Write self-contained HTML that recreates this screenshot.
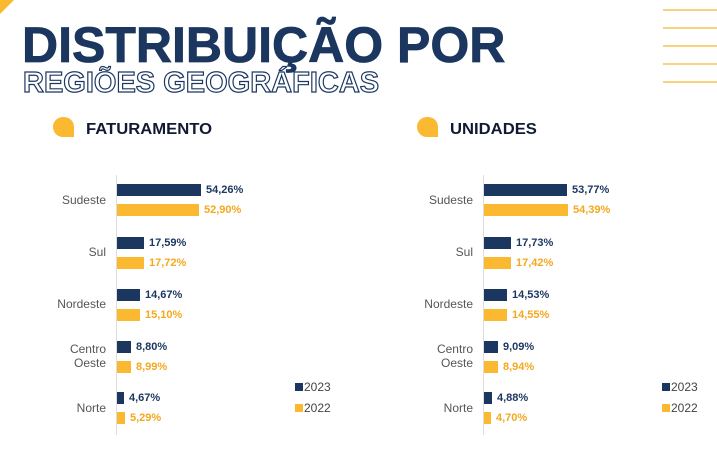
<!DOCTYPE html>
<html><head><meta charset="utf-8"><style>
body{margin:0;width:717px;height:459px;background:#fff;position:relative;overflow:hidden;font-family:"Liberation Sans",sans-serif}
.a{position:absolute}
.t1{left:22px;top:20px;font-size:50px;font-weight:bold;color:#1b365f;transform:scaleX(1.0);transform-origin:0 0;white-space:nowrap;line-height:50px;-webkit-text-stroke:0.8px #1b365f}
.t2{left:23px;top:69px;font-size:29px;font-weight:bold;color:#fff;-webkit-text-stroke:1.2px #1b365f;transform:scaleX(1.0);transform-origin:0 0;white-space:nowrap;line-height:29px}
.h{font-size:16px;font-weight:bold;color:#111a33;transform:scaleX(1.04);transform-origin:0 0}
.ic{width:21px;height:20px;background:#fbb932;border-radius:11px 11px 0 11px}
.ln{left:663px;width:54px;height:2px;background:#f9d27f}
.lab{font-size:12px;color:#555;text-align:right;width:100px;line-height:14px}
.b{height:12px}
.n{background:#1b365f}.y{background:#fbb932}
.v{font-size:11px;font-weight:bold;line-height:12px}
.vn{color:#1b365f}.vy{color:#f4a81d}
.ax{width:1px;background:#ddd;top:175px;height:260px}
.lg{font-size:12px;color:#444;line-height:12px}
.sq{width:8px;height:8px}
</style></head><body>
<div class="a" style="left:0;top:0;width:0;height:0;border-top:14px solid #fbb932;border-right:14px solid transparent"></div>
<div class="a ln" style="top:9px"></div><div class="a ln" style="top:27px"></div><div class="a ln" style="top:45px"></div><div class="a ln" style="top:63px"></div><div class="a ln" style="top:81px"></div>
<div class="a t1">DISTRIBUIÇÃO POR</div>
<div class="a t2">REGIÕES GEOGRÁFICAS</div>
<div class="a ic" style="left:53px;top:117px"></div><div class="a h" style="left:86px;top:121px">FATURAMENTO</div>
<div class="a ic" style="left:417px;top:117px"></div><div class="a h" style="left:450px;top:121px">UNIDADES</div>
<div id="c"></div>
<script>
var labels=[["Sudeste",200],["Sul",252],["Nordeste",304],["Centro<br>Oeste",349],["Norte",408]];
var tops=[[184,204],[237,257],[289,309],[341,361],[392,412]];
var data=[[116,[[54.26,52.90],[17.59,17.72],[14.67,15.10],[8.80,8.99],[4.67,5.29]],295],
[483,[[53.77,54.39],[17.73,17.42],[14.53,14.55],[9.09,8.94],[4.88,4.70]],662]];
var h="";
data.forEach(function(d){var x=d[0];
h+='<div class="a ax" style="left:'+x+'px"></div>';
labels.forEach(function(l,i){h+='<div class="a lab" style="left:'+(x-110)+'px;top:'+(l[1]-7)+'px">'+l[0]+'</div>';
for(var k=0;k<2;k++){var v=d[1][i][k],w=Math.round(v*1.55),t=tops[i][k];
h+='<div class="a b '+(k?'y':'n')+'" style="left:'+(x+1)+'px;top:'+t+'px;width:'+w+'px"></div>';
h+='<div class="a v '+(k?'vy':'vn')+'" style="left:'+(x+w+6)+'px;top:'+t+'px">'+v.toFixed(2).replace('.',',')+'%</div>';}});
var lx=d[2];
h+='<div class="a sq n" style="left:'+lx+'px;top:383px"></div><div class="a lg" style="left:'+(lx+9)+'px;top:381px">2023</div>';
h+='<div class="a sq y" style="left:'+lx+'px;top:404px"></div><div class="a lg" style="left:'+(lx+9)+'px;top:402px">2022</div>';
});
document.getElementById("c").innerHTML=h;
</script>
</body></html>
